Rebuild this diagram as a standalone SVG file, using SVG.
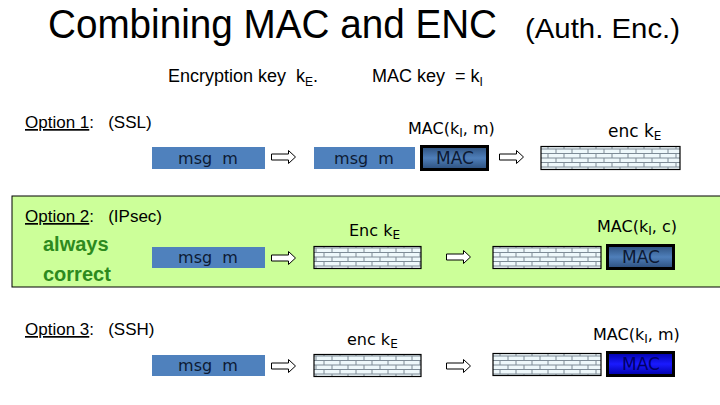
<svg xmlns="http://www.w3.org/2000/svg" width="720" height="405" viewBox="0 0 720 405">
<defs>
<pattern id="brick" width="16" height="9" patternUnits="userSpaceOnUse">
<rect width="16" height="9" fill="#eef8fb"/>
<path d="M0 0.5H16M0 5H16M4 0.5V5M12 5V9" stroke="#7d8b96" stroke-width="1" fill="none"/>
</pattern>
<linearGradient id="macg" x1="0" y1="0" x2="0" y2="1">
<stop offset="0" stop-color="#2c4f7c"/>
<stop offset="0.5" stop-color="#4f7fba"/>
<stop offset="1" stop-color="#2c4f7c"/>
</linearGradient>
<linearGradient id="macb" x1="0" y1="0" x2="0" y2="1">
<stop offset="0" stop-color="#0000a8"/>
<stop offset="0.5" stop-color="#1a1aff"/>
<stop offset="1" stop-color="#0000a8"/>
</linearGradient>
<symbol id="arr" viewBox="0 0 25 14" width="25" height="14" overflow="visible">
<path d="M0.5 4H17.5V0.5L24.5 7L17.5 13.5V10H0.5Z" fill="#fff" stroke="#000" stroke-width="1"/>
</symbol>
</defs>
<style>
text{white-space:pre}
.t{font-family:"Liberation Sans",Arial,sans-serif;fill:#000}
.v{font-family:"DejaVu Sans",Verdana,sans-serif;fill:#000}
.msg{fill:#4f81bd}
.msgt{font-family:"DejaVu Sans",Verdana,sans-serif;font-size:16px;fill:#0d1a33;text-anchor:middle}
.brk{fill:url(#brick);stroke:#000;stroke-width:1.2}
.mac{stroke:#000;stroke-width:3}
.mact{font-family:"DejaVu Sans",Verdana,sans-serif;font-size:17px;fill:#0d1a33;text-anchor:middle}
.opt{font-family:"Liberation Sans",Arial,sans-serif;font-size:17px;fill:#000}
.grn{font-family:"Liberation Sans",Arial,sans-serif;font-size:20px;font-weight:bold;fill:#2d8a1e}
</style>

<g id="title">
<text class="t" x="48" y="38" font-size="40" textLength="449" lengthAdjust="spacingAndGlyphs">Combining MAC and ENC</text>
<text class="t" x="525" y="38" font-size="28" textLength="155" lengthAdjust="spacingAndGlyphs">(Auth. Enc.)</text>
</g>
<g id="keys">
<text class="t" x="168" y="82" font-size="18">Encryption key  k<tspan font-size="12" dy="4">E</tspan><tspan dy="-4">.</tspan></text>
<text class="t" x="372" y="82" font-size="18">MAC key  = k<tspan font-size="12" dy="4">I</tspan></text>
</g>

<g id="band2">
<rect x="12" y="196" width="712" height="91" fill="#ccff99" stroke="#000" stroke-width="1"/>
</g>

<g id="option1">
<text class="opt" x="25" y="128"><tspan text-decoration="underline">Option 1</tspan>:   (SSL)</text>
<rect class="msg" x="152" y="147" width="113" height="22"/>
<text class="msgt" x="208" y="164">msg  m</text>
<rect class="msg" x="314" y="147" width="101" height="22"/>
<text class="msgt" x="364" y="164">msg  m</text>
<rect class="mac" x="421.5" y="146.5" width="66" height="23" fill="url(#macg)"/>
<text class="mact" x="455" y="164">MAC</text>
<text class="v" x="408" y="134" font-size="16">MAC(k<tspan font-size="12" dy="3">I</tspan><tspan dy="-3">, m)</tspan></text>
<rect class="brk" x="541" y="146.5" width="139" height="23"/>
<text class="v" x="608" y="137" font-size="17">enc k<tspan font-size="12" dy="3">E</tspan></text>
</g>

<g id="option2">
<text class="opt" x="25" y="222"><tspan text-decoration="underline">Option 2</tspan>:   (IPsec)</text>
<text class="grn" x="43" y="251">always</text>
<text class="grn" x="43" y="281">correct</text>
<rect class="msg" x="152" y="247" width="113" height="21"/>
<text class="msgt" x="208" y="263">msg  m</text>
<rect class="brk" x="314" y="246.5" width="107" height="22"/>
<text class="v" x="349" y="236" font-size="16">Enc k<tspan font-size="12" dy="3">E</tspan></text>
<rect class="brk" x="493" y="246.5" width="108" height="22"/>
<rect class="mac" x="607.5" y="245.5" width="66" height="23" fill="url(#macg)"/>
<text class="mact" x="641" y="263">MAC</text>
<text class="v" x="597" y="232" font-size="16">MAC(k<tspan font-size="12" dy="3">I</tspan><tspan dy="-3">, c)</tspan></text>
</g>

<g id="option3">
<text class="opt" x="25" y="335"><tspan text-decoration="underline">Option 3</tspan>:   (SSH)</text>
<rect class="msg" x="152" y="355" width="113" height="21"/>
<text class="msgt" x="208" y="371">msg  m</text>
<rect class="brk" x="314" y="354.5" width="107" height="22"/>
<text class="v" x="347" y="345" font-size="16">enc k<tspan font-size="12" dy="3">E</tspan></text>
<rect class="brk" x="493" y="353.5" width="108" height="22"/>
<rect class="mac" x="607.5" y="352.5" width="66" height="23" fill="url(#macb)"/>
<text class="mact" x="641" y="370" style="fill:#000066">MAC</text>
<text class="v" x="593" y="340" font-size="16">MAC(k<tspan font-size="12" dy="3">I</tspan><tspan dy="-3">, m)</tspan></text>
</g>

<g id="connectors">
<use href="#arr" x="271" y="150"/>
<use href="#arr" x="499" y="150"/>
<use href="#arr" x="271" y="251"/>
<use href="#arr" x="446" y="250"/>
<use href="#arr" x="271" y="359"/>
<use href="#arr" x="446" y="359"/>
</g>
</svg>
